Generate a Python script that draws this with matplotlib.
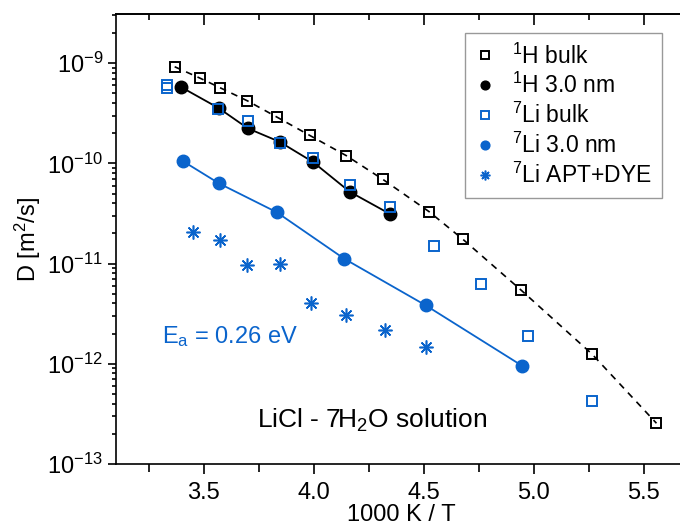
"""Diffusion coefficients of LiCl - 7H2O solution vs inverse temperature."""

import matplotlib

matplotlib.use("Agg")
import matplotlib.pyplot as plt
from matplotlib.ticker import (FormatStrFormatter, LogFormatterSciNotation, LogLocator,
                               MultipleLocator, NullFormatter)

plt.rcParams["font.family"] = ["Liberation Sans", "DejaVu Sans"]
plt.rcParams["mathtext.fontset"] = "custom"
plt.rcParams["mathtext.rm"] = "Liberation Sans"
plt.rcParams["mathtext.it"] = "Liberation Sans:italic"
plt.rcParams["mathtext.bf"] = "Liberation Sans:bold"
plt.rcParams["axes.unicode_minus"] = False

BLUE = "#0a64cc"

# 1H bulk
h_bulk_x = [3.368, 3.482, 3.573, 3.699, 3.832, 3.982, 4.149, 4.315, 4.524, 4.679, 4.944, 5.265, 5.558]
h_bulk_d = [9.2e-10, 7.1e-10, 5.7e-10, 4.2e-10, 2.9e-10, 1.9e-10, 1.19e-10, 6.9e-11, 3.3e-11,
            1.74e-11, 5.4e-12, 1.25e-12, 2.55e-13]

# 1H 3.0 nm
h_pore_x = [3.395, 3.568, 3.701, 3.845, 3.997, 4.164, 4.345]
h_pore_d = [5.8e-10, 3.56e-10, 2.23e-10, 1.64e-10, 1.03e-10, 5.2e-11, 3.14e-11]

# 7Li bulk
li_bulk_x = [3.333, 3.333, 3.565, 3.701, 3.845, 3.997, 4.164, 4.345, 4.545, 4.759, 4.974, 5.265]
li_bulk_d = [6.0e-10, 5.6e-10, 3.45e-10, 2.64e-10, 1.58e-10, 1.12e-10, 6.07e-11, 3.63e-11,
             1.5e-11, 6.25e-12, 1.9e-12, 4.3e-13]

# 7Li 3.0 nm
li_pore_x = [3.406, 3.570, 3.832, 4.138, 4.509, 4.949]
li_pore_d = [1.05e-10, 6.3e-11, 3.25e-11, 1.12e-11, 3.83e-12, 9.5e-13]

# 7Li APT+DYE
li_dye_x = [3.451, 3.573, 3.697, 3.849, 3.986, 4.145, 4.323, 4.512]
li_dye_d = [2.07e-11, 1.71e-11, 9.6e-12, 9.8e-12, 4.0e-12, 3.1e-12, 2.17e-12, 1.46e-12]


def main() -> None:
    fig = plt.figure(figsize=(6.8, 5.32), dpi=100)
    ax = fig.add_axes([115.7 / 680, 1 - 464 / 532, 572 / 680, 450 / 532])

    # guide lines
    ax.plot(h_bulk_x, h_bulk_d, color="black", lw=1.2, ls=(0, (4, 3.5)), zorder=2)
    ax.plot(h_pore_x, h_pore_d, color="black", lw=1.3, zorder=2)
    ax.plot(li_pore_x, li_pore_d, color=BLUE, lw=1.3, zorder=2)

    ax.plot(h_bulk_x, h_bulk_d, ls="none", marker="s", ms=7.5, mfc="none", mec="black",
            mew=1.4, label=r"$^{1}$H bulk", zorder=3)
    ax.plot(h_pore_x, h_pore_d, ls="none", marker="o", ms=9, color="black",
            label=r"$^{1}$H 3.0 nm", zorder=3)
    ax.plot(li_bulk_x, li_bulk_d, ls="none", marker="s", ms=7.5, mfc="none", mec=BLUE,
            mew=1.4, label=r"$^{7}$Li bulk", zorder=3)
    ax.plot(li_pore_x, li_pore_d, ls="none", marker="o", ms=9, color=BLUE,
            label=r"$^{7}$Li 3.0 nm", zorder=3)
    ax.plot(li_dye_x, li_dye_d, ls="none", marker=(8, 2, 0), ms=10, mec=BLUE, mew=1.15,
            label=r"$^{7}$Li APT+DYE", zorder=3)

    ax.set_yscale("log")
    ax.set_xlim(3.1, 5.7)
    ax.set_ylim(1e-13, 10 ** -8.51)

    ax.xaxis.set_major_locator(MultipleLocator(0.5))
    ax.xaxis.set_minor_locator(MultipleLocator(0.25))
    ax.xaxis.set_major_formatter(FormatStrFormatter("%.1f"))
    ax.yaxis.set_major_locator(LogLocator(base=10, numticks=10))
    ax.yaxis.set_minor_locator(LogLocator(base=10, subs=range(2, 10), numticks=20))
    ax.yaxis.set_major_formatter(LogFormatterSciNotation())
    ax.yaxis.set_minor_formatter(NullFormatter())

    ax.spines["right"].set_visible(False)
    for side in ("left", "bottom", "top"):
        ax.spines[side].set_linewidth(1.2)
    ax.tick_params(axis="x", which="both", direction="out", top=False, labelsize=17, pad=6, width=1.2)
    ax.tick_params(axis="x", which="major", length=7)
    ax.tick_params(axis="x", which="minor", length=6)
    ax.tick_params(axis="y", which="both", direction="out", labelsize=17, pad=3, width=1.2)
    ax.tick_params(axis="y", which="major", length=6)
    ax.tick_params(axis="y", which="minor", length=3)

    # top axis: ticks point into the frame, no labels
    top = ax.secondary_xaxis("top")
    top.xaxis.set_major_locator(MultipleLocator(0.5))
    top.xaxis.set_minor_locator(MultipleLocator(0.25))
    top.tick_params(axis="x", which="both", direction="in", labeltop=False, width=1.2)
    top.tick_params(axis="x", which="major", length=8)
    top.tick_params(axis="x", which="minor", length=4)
    top.spines["top"].set_linewidth(1.2)

    ax.set_xlabel("1000 K / T", fontsize=17, labelpad=0)
    ax.set_ylabel(r"D [m$^{2}$/s]", fontsize=17)
    ax.yaxis.set_label_coords(-0.127, 0.5)

    ax.text(0.081, 0.269, r"E$_{\mathrm{a}}$ = 0.26 eV", transform=ax.transAxes, color=BLUE,
            fontsize=17, va="baseline", ha="left")
    ax.text(0.247, 0.08, r"LiCl - 7H$_{2}$O solution", transform=ax.transAxes,
            color="black", fontsize=19, va="baseline", ha="left")

    leg = ax.legend(loc="upper right", bbox_to_anchor=(0.9545, 0.958), borderaxespad=0,
                    fontsize=16.5, markerscale=0.7, handlelength=0.9, handletextpad=0.7,
                    labelspacing=0.2, borderpad=0.45, fancybox=False, framealpha=1,
                    edgecolor="#999999")
    leg.get_frame().set_linewidth(1.0)

    fig.savefig("out.png", dpi=100)
    plt.close(fig)


if __name__ == "__main__":
    main()
